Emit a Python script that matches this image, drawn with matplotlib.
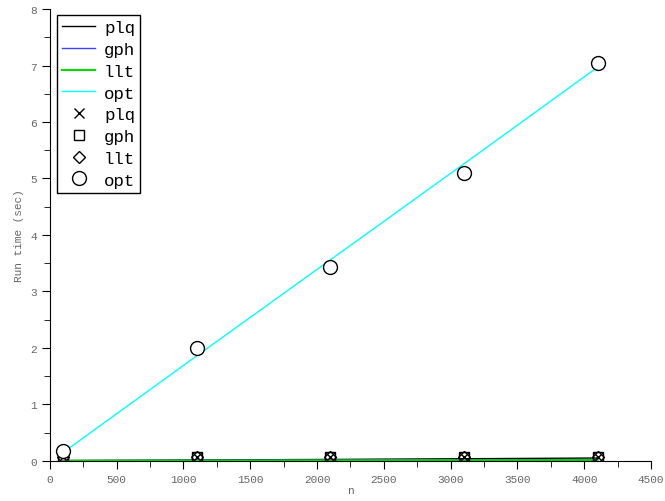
import matplotlib
matplotlib.use("Agg")
import matplotlib.pyplot as plt
from matplotlib.ticker import MultipleLocator

# problem sizes
n = [100, 1100, 2100, 3100, 4100]

# measured run times (markers)
plq_pts = [0.06, 0.06, 0.06, 0.06, 0.06]
gph_pts = [0.06, 0.06, 0.06, 0.06, 0.06]
llt_pts = [0.06, 0.06, 0.06, 0.06, 0.06]
opt_pts = [0.18, 1.99, 3.43, 5.09, 7.05]

# fitted curves (lines)
plq_fit = [0.005, 0.015, 0.025, 0.037, 0.05]
gph_fit = [0.003, 0.008, 0.013, 0.018, 0.023]
llt_fit = [0.001, 0.004, 0.007, 0.010, 0.013]
opt_fit = [0.15, 1.86, 3.56, 5.26, 6.97]

plt.rcParams['font.family'] = ['Liberation Mono', 'DejaVu Sans Mono']

fig = plt.figure(figsize=(6.65, 5.02), dpi=100)
ax = fig.add_axes([0.075, 0.080, 0.904, 0.900])

l1, = ax.plot(n, plq_fit, color='black', lw=1, label='plq')
l2, = ax.plot(n, gph_fit, color='#4040ff', lw=1, label='gph')
l3, = ax.plot(n, llt_fit, color='#00dd00', lw=1.5, label='llt')
l4, = ax.plot(n, opt_fit, color='cyan', lw=1, label='opt')
m1, = ax.plot(n, plq_pts, 'x', color='black', ms=7, mew=1, ls='none', label='plq')
m2, = ax.plot(n, gph_pts, 's', mfc='none', mec='black', ms=7, mew=1, ls='none', label='gph')
m3, = ax.plot(n, llt_pts, 'D', mfc='none', mec='black', ms=6, mew=1, ls='none', label='llt')
m4, = ax.plot(n, opt_pts, 'o', mfc='white', mec='black', ms=10, mew=1, ls='none', label='opt')

ax.set_xlim(0, 4500)
ax.set_ylim(0, 8)
ax.xaxis.set_major_locator(MultipleLocator(500))
ax.xaxis.set_minor_locator(MultipleLocator(250))
ax.yaxis.set_major_locator(MultipleLocator(1))
ax.yaxis.set_minor_locator(MultipleLocator(0.5))
for s in ['top', 'right']:
    ax.spines[s].set_visible(False)
ax.tick_params(which='major', direction='out', length=6, labelsize=8, labelcolor='#666666')
ax.tick_params(which='minor', direction='out', length=4)

ax.set_xlabel('n', fontsize=8, color='#666666', labelpad=1)
ax.set_ylabel('Run time (sec)', fontsize=8, color='#666666', labelpad=4)

leg = ax.legend(handles=[l1, l2, l3, l4, m1, m2, m3, m4], loc='upper left',
                bbox_to_anchor=(0.012, 0.987), fontsize=12.5, fancybox=False,
                edgecolor='black', framealpha=1, handlelength=1.9,
                borderpad=0.3, labelspacing=0.38, handletextpad=0.5,
                borderaxespad=0)
leg.get_frame().set_linewidth(1)

fig.savefig('out.png', dpi=100)
